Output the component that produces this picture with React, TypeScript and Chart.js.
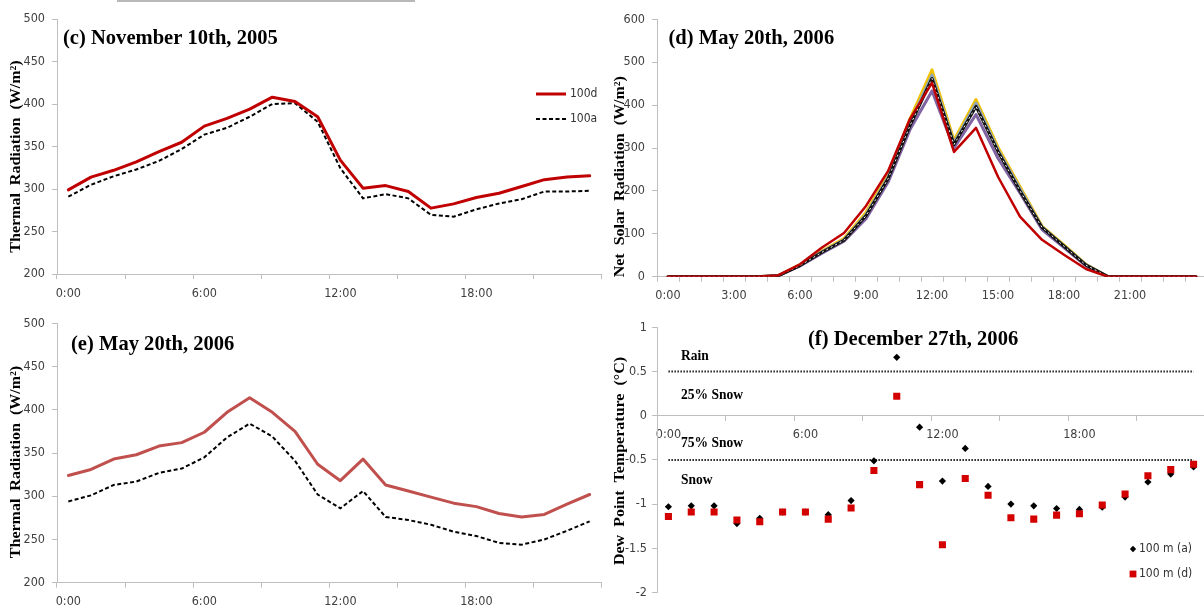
import React, { useEffect, useRef } from "react";
import { Chart, registerables } from "chart.js";

Chart.register(...registerables);

// ---------- categories ----------
const HOURS_24 = [
  "0:00", "1:00", "2:00", "3:00", "4:00", "5:00", "6:00", "7:00", "8:00", "9:00", "10:00", "11:00",
  "12:00", "13:00", "14:00", "15:00", "16:00", "17:00", "18:00", "19:00", "20:00", "21:00", "22:00", "23:00",
];
const HOURS_25 = [...HOURS_24, "24:00"];

// ---------- (c) November 10th, 2005 : thermal radiation (W/m²) ----------
const novThermal100d = [299, 314, 322, 332, 344, 355, 374, 383, 394, 408, 403, 385, 334, 301, 304, 297, 277.5, 282.5, 290, 295, 303, 311, 314, 315.5];
const novThermal100a = [291, 305, 315, 323, 333, 347, 364, 372, 385, 400, 401, 379, 324.5, 289, 294, 289, 269.5, 267.5, 276, 283, 288, 297, 297, 298];

// ---------- (d) May 20th, 2006 : net solar radiation (W/m²) ----------
const solarRed = [0, 0, 0, 0, 0, 3, 29, 68, 102, 165, 246, 368, 452, 291, 347, 233, 140, 86, 51, 18, 0, 0, 0, 0, 0];
const solarBlack = [0, 0, 0, 0, 0, 2, 26, 57, 85, 142, 228, 352, 462, 308, 397, 292, 200, 115, 71, 27, 0, 0, 0, 0, 0];
const solarYellow = [0, 0, 0, 0, 0, 2, 28, 60, 89, 150, 237, 368, 482, 318, 413, 302, 210, 118, 74, 29, 0, 0, 0, 0, 0];
const solarGray = [0, 0, 0, 0, 0, 2, 27, 58, 86, 145, 232, 360, 470, 312, 405, 296, 205, 116, 72, 28, 0, 0, 0, 0, 0];
const solarPurple = [0, 0, 0, 0, 0, 2, 25, 55, 83, 135, 220, 343, 433, 300, 378, 276, 195, 110, 68, 25, 0, 0, 0, 0, 0];

// ---------- (e) May 20th, 2006 : thermal radiation (W/m²) ----------
const mayThermal100d = [324, 331, 343, 348, 358, 362, 374, 397, 414, 397, 375, 337, 318, 343, 313, 306, 299, 292, 288, 280, 276, 279, 291, 302];
const mayThermal100a = [294, 301, 313, 317, 327, 332, 345, 368, 384, 369, 341, 302, 286, 306, 276, 272.5, 267, 259, 254, 246, 244, 250, 260, 271];

// ---------- (f) December 27th, 2006 : dew point temperature (°C) ----------
const dew100a = [-1.03, -1.02, -1.02, -1.22, -1.16, -1.09, -1.09, -1.12, -0.96, -0.51, 0.66, -0.13, -0.74, -0.37, -0.8, -1.0, -1.02, -1.05, -1.06, -1.035, -0.92, -0.75, -0.66, -0.58];
const dew100d = [-1.14, -1.09, -1.09, -1.18, -1.2, -1.09, -1.09, -1.17, -1.045, -0.62, 0.22, -0.78, -1.46, -0.71, -0.9, -1.155, -1.17, -1.125, -1.11, -1.01, -0.885, -0.68, -0.61, -0.55];
const rainLimit = 0.5;
const snowLimit = -0.5;
const precipZones = [
  { text: "Rain", value: 0.63 },
  { text: "25% Snow", value: 0.19 },
  { text: "75% Snow", value: -0.35 },
  { text: "Snow", value: -0.77 },
];

// ---------- shared styling ----------
const TICK_FONT = { family: "'Liberation Sans Narrow', 'Arial Narrow', 'DejaVu Sans Condensed', sans-serif", size: 12.5 };
const SERIF = "'Liberation Serif', 'Times New Roman', serif";
const AXIS_GRAY = "#bfbfbf";
const TICK_TEXT = "#404040";

type Area = { left: number; top: number; right: number; bottom: number };

// Bold serif captions (panel titles, rotated axis titles, zone names)
const panelTextPlugin = {
  id: "panelText",
  afterDraw(chart: any, _args: any, opts: any) {
    const items = (opts && opts.items) || [];
    const ctx = chart.ctx as CanvasRenderingContext2D;
    for (let i = 0; i < items.length; i++) {
      const it = items[i];
      const y = it.value !== undefined ? chart.scales.y.getPixelForValue(it.value) : it.y;
      ctx.save();
      ctx.font = `bold ${it.size}px ${SERIF}`;
      ctx.fillStyle = "#000";
      ctx.translate(it.x, y);
      if (it.rotate) {
        ctx.rotate(-Math.PI / 2);
        ctx.scale(1, it.squeeze || 1);
        ctx.textAlign = "center";
        ctx.textBaseline = "middle";
      } else {
        ctx.scale(it.squeeze || 1, 1);
        ctx.textAlign = "left";
        ctx.textBaseline = "alphabetic";
      }
      ctx.fillText(it.text, 0, 0);
      ctx.restore();
    }
  },
};

// Legend drawn inside the plot area
const insetLegendPlugin = {
  id: "insetLegend",
  afterDraw(chart: any, _args: any, opts: any) {
    if (!opts || !opts.kind) return;
    const ctx = chart.ctx as CanvasRenderingContext2D;
    let row = 0;
    chart.data.datasets.forEach((ds: any) => {
      if (!ds.label) return;
      const y = opts.y + row * opts.rowGap;
      ctx.save();
      let textX = opts.x;
      if (opts.kind === "line") {
        ctx.strokeStyle = ds.borderColor;
        ctx.lineWidth = ds.borderWidth;
        ctx.setLineDash(ds.borderDash || []);
        ctx.beginPath();
        ctx.moveTo(opts.x, y);
        ctx.lineTo(opts.x + opts.sample, y);
        ctx.stroke();
        textX = opts.x + opts.sample + opts.textGap;
      } else {
        ctx.fillStyle = ds.backgroundColor;
        const r = ds.legendRadius;
        ctx.beginPath();
        if (ds.pointStyle === "rectRot") {
          ctx.moveTo(opts.x, y - r);
          ctx.lineTo(opts.x + r, y);
          ctx.lineTo(opts.x, y + r);
          ctx.lineTo(opts.x - r, y);
          ctx.closePath();
        } else {
          ctx.rect(opts.x - r, y - r, 2 * r, 2 * r);
        }
        ctx.fill();
        textX = opts.x + opts.textGap;
      }
      ctx.setLineDash([]);
      ctx.font = `12px ${TICK_FONT.family}`;
      ctx.fillStyle = "#333";
      ctx.textAlign = "left";
      ctx.textBaseline = "middle";
      ctx.fillText(ds.label, textX, y);
      ctx.restore();
      row++;
    });
  },
};

function yAxis(min: number, max: number, step: number, area: Area, padding = 7) {
  return {
    min,
    max,
    ticks: {
      stepSize: step,
      font: TICK_FONT,
      color: TICK_TEXT,
      padding,
      callback: (v: number) => String(Math.round(v * 100) / 100),
    },
    grid: { drawOnChartArea: false, color: AXIS_GRAY, tickLength: 5 },
    border: { color: AXIS_GRAY },
    afterFit: (s: any) => {
      s.width = area.left;
    },
  };
}

function xAxis(labels: string[], labelEvery: number, markEvery: number, labelLimit: number, fitHeight: number | null) {
  const axis: any = {
    type: "category",
    offset: true,
    ticks: {
      autoSkip: false,
      maxRotation: 0,
      minRotation: 0,
      font: TICK_FONT,
      color: TICK_TEXT,
      padding: 7,
      callback: (_v: any, i: number) => (i % labelEvery === 0 && i < labelLimit ? labels[i] : ""),
    },
    grid: {
      offset: true,
      drawOnChartArea: false,
      tickLength: 5,
      color: (c: any) => (c.index === undefined || c.index % markEvery === 0 ? AXIS_GRAY : "rgba(0,0,0,0)"),
    },
    border: { color: AXIS_GRAY },
  };
  if (fitHeight !== null) {
    axis.afterFit = (s: any) => {
      s.height = fitHeight;
    };
  }
  return axis;
}

function baseOptions(width: number, area: Area, bottomPad: number) {
  return {
    animation: false,
    responsive: false,
    maintainAspectRatio: false,
    events: [],
    layout: { padding: { top: area.top, right: width - area.right, bottom: bottomPad, left: 0 } },
    elements: { point: { radius: 0 }, line: { tension: 0 } },
  };
}

function thermalConfig(
  width: number,
  height: number,
  area: Area,
  title: string,
  titlePos: { x: number; y: number },
  yTitlePos: { x: number; y: number },
  d: number[],
  a: number[],
  red: string,
  showLegend: boolean
) {
  return {
    type: "line",
    data: {
      labels: HOURS_24,
      datasets: [
        { label: "100d", data: d, borderColor: red, borderWidth: 3, borderJoinStyle: "round", borderCapStyle: "round", pointRadius: 0 },
        { label: "100a", data: a, borderColor: "#000000", borderWidth: 2, borderDash: [4, 2.5], pointRadius: 0 },
      ],
    },
    options: {
      ...baseOptions(width, area, 0),
      scales: {
        x: xAxis(HOURS_24, 6, 3, 24, height - area.bottom),
        y: yAxis(200, 500, 50, area),
      },
      plugins: {
        legend: { display: false },
        tooltip: { enabled: false },
        panelText: {
          items: [
            { text: title, x: titlePos.x, y: titlePos.y, size: 22, squeeze: 0.935 },
            { text: "Thermal  Radiation  (W/m²)", x: yTitlePos.x, y: yTitlePos.y, size: 16, rotate: true, squeeze: 0.87 },
          ],
        },
        insetLegend: showLegend ? { kind: "line", x: 536, y: 94, rowGap: 25, sample: 30, textGap: 4 } : {},
      },
    },
    plugins: [panelTextPlugin, insetLegendPlugin],
  };
}

function solarConfig(width: number, height: number, area: Area) {
  const common = { pointRadius: 0, borderJoinStyle: "round", borderCapStyle: "round" };
  return {
    type: "line",
    data: {
      labels: HOURS_25,
      datasets: [
        { ...common, data: solarRed, borderColor: "#c00000", borderWidth: 2.5 },
        { ...common, data: solarBlack, borderColor: "#ffffff", borderWidth: 1, borderDash: [2, 3], borderCapStyle: "butt" },
        { ...common, data: solarBlack, borderColor: "#111111", borderWidth: 3 },
        { ...common, data: solarPurple, borderColor: "#8064a2", borderWidth: 3 },
        { ...common, data: solarGray, borderColor: "#8fa6b8", borderWidth: 3 },
        { ...common, data: solarYellow, borderColor: "#f2c200", borderWidth: 3 },
      ],
    },
    options: {
      ...baseOptions(width, area, 0),
      scales: {
        x: xAxis(HOURS_25, 3, 1, 24, height - area.bottom),
        y: yAxis(0, 600, 100, area),
      },
      plugins: {
        legend: { display: false },
        tooltip: { enabled: false },
        panelText: {
          items: [
            { text: "(d) May 20th, 2006", x: 68.5, y: 44, size: 22, squeeze: 0.935 },
            { text: "Net  Solar  Radiation  (W/m²)", x: 20, y: 176.7, size: 16, rotate: true, squeeze: 0.87 },
          ],
        },
      },
    },
    plugins: [panelTextPlugin],
  };
}

function dewConfig(width: number, height: number, area: Area) {
  const first = HOURS_24[0];
  const last = HOURS_24[HOURS_24.length - 1];
  const zoneItems = precipZones.map((z) => ({ text: z.text, x: 81, value: z.value, size: 15, squeeze: 0.9 }));
  return {
    type: "line",
    data: {
      labels: HOURS_24,
      datasets: [
        {
          label: "100 m (a)",
          data: dew100a,
          showLine: false,
          pointStyle: "rectRot",
          pointRadius: 3.6,
          legendRadius: 3.2,
          backgroundColor: "#000000",
          borderColor: "#000000",
          borderWidth: 0,
          order: 1,
        },
        {
          label: "100 m (d)",
          data: dew100d,
          showLine: false,
          pointStyle: "rect",
          pointRadius: 5,
          legendRadius: 3.4,
          backgroundColor: "#d40000",
          borderColor: "#d40000",
          borderWidth: 0,
          order: 0,
        },
        {
          data: [{ x: first, y: rainLimit }, { x: last, y: rainLimit }],
          borderColor: "#222222",
          borderWidth: 2,
          borderDash: [1.5, 1.5],
          pointRadius: 0,
          order: 2,
        },
        {
          data: [{ x: first, y: snowLimit }, { x: last, y: snowLimit }],
          borderColor: "#222222",
          borderWidth: 2,
          borderDash: [1.5, 1.5],
          pointRadius: 0,
          order: 2,
        },
      ],
    },
    options: {
      ...baseOptions(width, area, height - area.bottom),
      scales: {
        x: { ...xAxis(HOURS_24, 6, 3, 24, null), position: { y: 0 } },
        y: yAxis(-2, 1, 0.5, area, 5),
      },
      plugins: {
        legend: { display: false },
        tooltip: { enabled: false },
        panelText: {
          items: [
            { text: "(f) December 27th, 2006", x: 208, y: 45, size: 22, squeeze: 0.935 },
            { text: "Dew  Point  Temperature  (°C)", x: 20, y: 161, size: 16, rotate: true, squeeze: 0.87 },
            ...zoneItems,
          ],
        },
        insetLegend: { kind: "point", x: 533, y: 249, rowGap: 25, textGap: 6 },
      },
    },
    plugins: [panelTextPlugin, insetLegendPlugin],
  };
}

function ChartPanel({ left, top, width, height, config }: { left: number; top: number; width: number; height: number; config: any }) {
  const ref = useRef<HTMLCanvasElement>(null);
  useEffect(() => {
    if (!ref.current) return;
    const chart = new Chart(ref.current, config);
    return () => chart.destroy();
  }, []);
  return (
    <canvas
      ref={ref}
      width={width}
      height={height}
      style={{ position: "absolute", left, top, width, height, display: "block" }}
    />
  );
}

export default function App() {
  const cArea = { left: 57, top: 19, right: 601, bottom: 274 };
  const eArea = { left: 57, top: 23.3, right: 601, bottom: 282.7 };
  const dArea = { left: 57, top: 19.3, right: 607, bottom: 276.7 };
  const fArea = { left: 57, top: 27.3, right: 606, bottom: 297.7 };

  return (
    <div
      style={{
        position: "absolute",
        left: 0,
        top: 0,
        width: 1204,
        height: 605,
        overflow: "hidden",
        background: "#ffffff",
      }}
    >
      <div style={{ position: "absolute", left: 117, top: 0, width: 298, height: 2, background: "#b8b8b8" }} />
      <ChartPanel
        left={0}
        top={0}
        width={604}
        height={300}
        config={thermalConfig(604, 300, cArea, "(c) November 10th, 2005", { x: 63, y: 43.5 }, { x: 16.5, y: 156.5 }, novThermal100d, novThermal100a, "#c00000", true)}
      />
      <ChartPanel left={600} top={0} width={610} height={300} config={solarConfig(610, 300, dArea)} />
      <ChartPanel
        left={0}
        top={300}
        width={604}
        height={310}
        config={thermalConfig(604, 310, eArea, "(e) May 20th, 2006", { x: 71, y: 50 }, { x: 16.5, y: 162 }, mayThermal100d, mayThermal100a, "#c0504d", false)}
      />
      <ChartPanel left={600} top={300} width={610} height={305} config={dewConfig(610, 305, fArea)} />
    </div>
  );
}
